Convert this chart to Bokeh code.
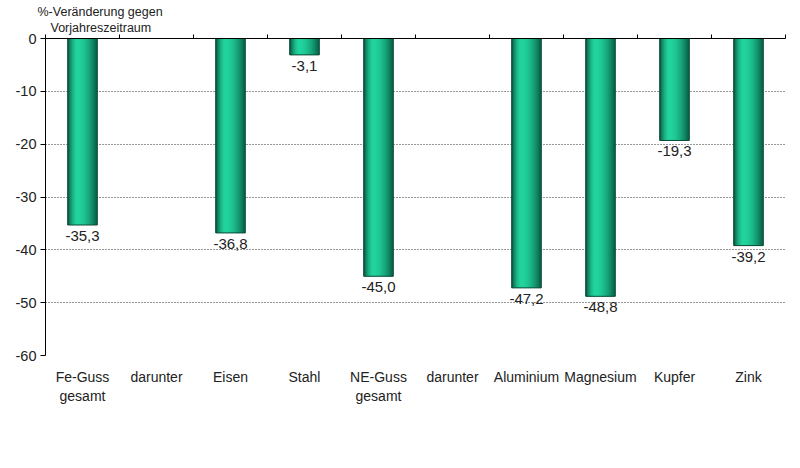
from bokeh.plotting import figure
from bokeh.models import Range1d, LinearAxis, FixedTicker, Title, ColumnDataSource
from bokeh.core.properties import value
from bokeh.embed import file_html
from bokeh.resources import INLINE

categories = ["Fe-Guss\ngesamt", "darunter", "Eisen", "Stahl", "NE-Guss\ngesamt",
              "darunter", "Aluminium", "Magnesium", "Kupfer", "Zink"]
values = [-35.3, None, -36.8, -3.1, -45.0, None, -47.2, -48.8, -19.3, -39.2]
y_ticks = [0, -10, -20, -30, -40, -50, -60]
y_title = ["%-Veränderung gegen", "Vorjahreszeitraum"]

FONT = "Liberation Sans"

p = figure(width=800, height=468, output_backend="svg", toolbar_location=None,
           x_range=Range1d(0, len(categories)), y_range=Range1d(-60, 0),
           min_border_left=45, min_border_right=15, min_border_top=38, min_border_bottom=113,
           x_axis_location=None, y_axis_location=None)
p.outline_line_color = None
p.background_fill_color = "white"
p.border_fill_color = "white"
p.xgrid.visible = False

# y axis
yax = LinearAxis(ticker=FixedTicker(ticks=y_ticks))
yax.major_label_overrides = {t: str(t) for t in y_ticks}
yax.axis_line_color = "black"
yax.major_tick_line_color = "black"
yax.major_tick_out = 5
yax.major_tick_in = 0
yax.minor_tick_line_color = None
yax.major_label_text_font = FONT
yax.major_label_text_font_size = "14.5px"
yax.major_label_text_color = "#222222"
yax.major_label_standoff = 4
p.add_layout(yax, "left")

p.ygrid.ticker = FixedTicker(ticks=y_ticks)
p.ygrid.grid_line_color = "#333333"
p.ygrid.grid_line_dash = "1 2"
p.ygrid.grid_line_width = 1

# top axis (zero line with category boundary ticks)
tax = LinearAxis(ticker=FixedTicker(ticks=list(range(0, len(categories) + 1))))
tax.axis_line_color = "black"
tax.major_tick_line_color = "black"
tax.major_tick_out = 4
tax.major_tick_in = 0
tax.minor_tick_line_color = None
tax.major_label_text_font_size = "0px"
tax.major_label_text_color = None
tax.major_label_standoff = 0
p.add_layout(tax, "above")

# axis title as two title lines above the frame
t2 = Title(text=y_title[1], align="left", offset=5, standoff=0,
           text_font=FONT, text_font_size="12.5px", text_font_style="normal", text_color="#222222")
t1 = Title(text=y_title[0], align="left", offset=-8, standoff=0,
           text_font=FONT, text_font_size="12.5px", text_font_style="normal", text_color="#222222")
p.add_layout(t2, "above")
p.add_layout(t1, "above")

# bottom axis (category labels)
xs_all = [i + 0.5 for i in range(len(categories))]
bax = LinearAxis(ticker=FixedTicker(ticks=xs_all))
bax.major_label_overrides = {x: c for x, c in zip(xs_all, categories)}
bax.axis_line_color = None
bax.major_tick_line_color = None
bax.minor_tick_line_color = None
bax.major_label_text_font = FONT
bax.major_label_text_font_size = "14px"
bax.major_label_text_color = "#222222"
bax.major_label_standoff = 7
p.add_layout(bax, "below")

# bars with cylinder shading
bx = [x for x, v in zip(xs_all, values) if v is not None]
bv = [v for v in values if v is not None]
bar_w = 0.40
N = 30
dark_l = (6, 66, 48)
bright = (34, 212, 158)
dark_r = (8, 96, 70)
for k in range(N):
    t = (k + 0.5) / N
    peak = 0.35
    if t < peak:
        f = 1 - ((peak - t) / peak) ** 1.8
        c0 = dark_l
    else:
        f = 1 - ((t - peak) / (1 - peak)) ** 1.8
        c0 = dark_r
    col = tuple(int(round(c0[j] + (bright[j] - c0[j]) * f)) for j in range(3))
    hexc = "#%02x%02x%02x" % col
    sw = bar_w / N * 2.2
    off = -bar_w / 2 + t * bar_w
    lo = max(off - sw / 2, -bar_w / 2)
    hi = min(off + sw / 2, bar_w / 2)
    src = ColumnDataSource(dict(x=[x + (lo + hi) / 2 for x in bx], top=bv))
    p.vbar(x="x", top="top", bottom=0, width=hi - lo, source=src,
           fill_color=hexc, line_color=None)
# outline
p.vbar(x=bx, top=bv, bottom=0, width=bar_w, fill_color=None, line_color="#0a4a36", line_width=1)

# value labels
lab = [("%.1f" % v).replace(".", ",") for v in bv]
p.text(x=bx, y=bv, text=lab, text_align="center", text_baseline="top", y_offset=6,
       text_font=value(FONT), text_font_size="15px", text_color="#222222")

open("out.html", "w").write(file_html(p, INLINE))
